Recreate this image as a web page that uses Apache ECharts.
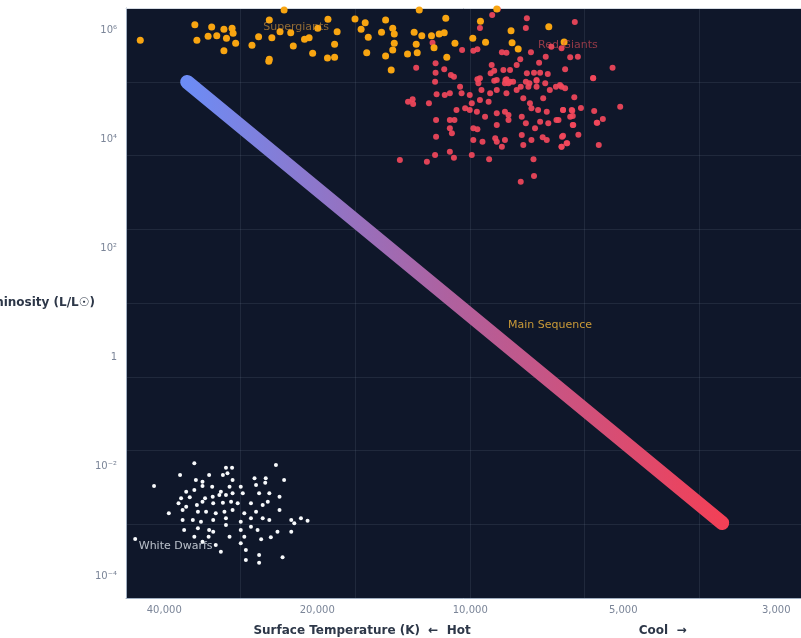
<!DOCTYPE html>
<html>
<head>
<meta charset="utf-8">
<script src="https://cdn.jsdelivr.net/npm/echarts@6/dist/echarts.min.js"></script>
<style>
  html, body { margin: 0; padding: 0; background: #ffffff; }
  #hr-chart { width: 801px; height: 638px; }
</style>
</head>
<body>
<div id="hr-chart"></div>
<script>
// values are log10(T / K) and log10(L / Lsun)
var xTickExp = [4.6, 4.3, 4.0, 3.7, 3.4];
var xTickLabels = ['40,000', '20,000', '10,000', '5,000', '3,000'];
var yTickExp = [-4, -2, 0, 2, 4, 6];
var yTickLabels = ['10⁻⁴', '10⁻²', '1', '10²', '10⁴', '10⁶'];

// main sequence end points
var mainSeqLogT = [4.555, 3.506];
var mainSeqLogL = [5.048, -3.029];

var supergiants = [
    [4.647, 5.811], [4.540, 6.097], [4.536, 5.811], [4.507, 6.055], [4.514, 5.885], [4.497, 5.896],
    [4.483, 6.013], [4.467, 6.031], [4.465, 5.940], [4.478, 5.848], [4.460, 5.756], [4.483, 5.621],
    [4.428, 5.720], [4.415, 5.877], [4.394, 6.183], [4.365, 6.366], [4.389, 5.859], [4.394, 5.463],
    [4.395, 5.427], [4.373, 5.969], [4.352, 5.951], [4.347, 5.707], [4.325, 5.830], [4.316, 5.859],
    [4.309, 5.573], [4.299, 6.031], [4.279, 6.196], [4.261, 5.969], [4.266, 5.738], [4.280, 5.487],
    [4.266, 5.500], [4.226, 6.202], [4.206, 6.134], [4.214, 6.013], [4.200, 5.866], [4.203, 5.584],
    [4.166, 6.183], [4.174, 5.958], [4.152, 6.031], [4.149, 5.927], [4.149, 5.756], [4.152, 5.634],
    [4.166, 5.524], [4.155, 5.268], [4.100, 6.366], [4.110, 5.958], [4.095, 5.896], [4.106, 5.738],
    [4.104, 5.584], [4.123, 5.561], [4.076, 5.896], [4.061, 5.927], [4.051, 5.951], [4.071, 5.676],
    [4.048, 6.214], [4.030, 5.756], [4.046, 5.500], [3.980, 6.159], [3.995, 5.848], [3.970, 5.775],
    [3.920, 5.987], [3.918, 5.768], [3.906, 5.652], [3.846, 6.061], [3.816, 5.780], [3.948, 6.385]
];

var redGiants = [
    [3.957, 6.275], [3.946, 6.379], [3.889, 6.214], [3.891, 6.037], [3.981, 6.037], [3.994, 5.621],
    [3.986, 5.647], [3.938, 5.592], [3.929, 5.584], [3.881, 5.592], [3.865, 5.401], [3.852, 5.511],
    [3.841, 5.694], [4.016, 5.634], [4.074, 5.768], [4.068, 5.390], [4.106, 5.310], [4.051, 5.280],
    [4.068, 5.218], [4.038, 5.176], [4.032, 5.145], [3.986, 5.097], [3.958, 5.359], [3.953, 5.255],
    [3.935, 5.268], [3.922, 5.268], [3.909, 5.359], [3.902, 5.463], [3.875, 5.218], [3.863, 5.218],
    [3.848, 5.194], [3.931, 5.084], [3.916, 5.053], [3.891, 5.053], [3.870, 5.084], [3.948, 5.084],
    [3.795, 6.147], [3.821, 5.665], [3.804, 5.500], [3.789, 5.511], [3.814, 5.280], [3.721, 5.310],
    [3.759, 5.121], [3.821, 4.962], [3.796, 4.768], [3.818, 4.535], [3.800, 4.522], [3.783, 4.572],
    [3.757, 4.517], [3.706, 4.595], [3.799, 4.425], [3.740, 4.370], [3.751, 4.302], [3.798, 4.260],
    [3.818, 4.064], [3.788, 4.083], [3.810, 3.925], [3.821, 3.863], [3.748, 3.894],
    [3.960, 5.207], [3.889, 5.207], [4.069, 5.053], [4.020, 4.962], [3.984, 5.024], [3.981, 5.116],
    [3.953, 5.072], [3.929, 5.097], [3.925, 5.024], [3.901, 4.962], [3.884, 5.024], [3.870, 5.072],
    [3.853, 5.024], [3.824, 4.993], [3.814, 4.932], [3.759, 5.116], [4.040, 4.841], [4.050, 4.810],
    [4.066, 4.822], [4.081, 4.658], [4.122, 4.687], [4.113, 4.731], [4.112, 4.645], [4.017, 4.841],
    [4.001, 4.810], [3.978, 4.901], [3.961, 4.841], [3.948, 4.901], [3.932, 5.024], [3.922, 5.053],
    [3.997, 4.658], [3.981, 4.718], [3.964, 4.687], [3.929, 4.841], [3.909, 4.901], [3.896, 4.749],
    [3.886, 4.962], [3.870, 4.962], [3.844, 4.901], [3.832, 4.962], [3.857, 4.749], [4.027, 4.535],
    [4.010, 4.566], [4.040, 4.352], [4.067, 4.352], [4.031, 4.352], [4.001, 4.535], [3.987, 4.504],
    [3.971, 4.412], [3.948, 4.474], [3.932, 4.504], [3.925, 4.443], [3.899, 4.412], [3.883, 4.658],
    [3.880, 4.566], [3.867, 4.535], [3.850, 4.504], [3.831, 4.352], [3.818, 4.535], [3.801, 4.535],
    [3.804, 4.412], [3.799, 4.260], [3.752, 4.302], [4.040, 4.200], [3.994, 4.200], [3.986, 4.181],
    [3.948, 4.260], [3.925, 4.352], [3.891, 4.291], [3.873, 4.200], [3.863, 4.321], [3.847, 4.291],
    [3.827, 4.352], [4.067, 4.046], [4.036, 4.108], [3.994, 3.985], [3.976, 3.954], [3.951, 4.017],
    [3.948, 3.954], [3.932, 3.985], [3.938, 3.863], [3.899, 4.077], [3.896, 3.894], [3.880, 3.985],
    [3.858, 4.035], [3.850, 3.985], [3.820, 4.046], [3.821, 3.863], [3.811, 3.925], [4.138, 3.619],
    [4.085, 3.588], [4.069, 3.711], [4.040, 3.771], [4.032, 3.661], [3.997, 3.711], [3.963, 3.632],
    [3.876, 3.632], [3.875, 3.326], [3.901, 3.222]
];

var whiteDwarfs = [
    [4.541, -1.936], [4.479, -2.016], [4.467, -2.016], [4.381, -1.967], [4.620, -2.352], [4.569, -2.150],
    [4.538, -2.242], [4.525, -2.273], [4.512, -2.150], [4.485, -2.150], [4.476, -2.119], [4.466, -2.242],
    [4.423, -2.211], [4.401, -2.211], [4.402, -2.291], [4.365, -2.242], [4.557, -2.456], [4.541, -2.425],
    [4.525, -2.352], [4.506, -2.364], [4.489, -2.456], [4.472, -2.364], [4.450, -2.364], [4.420, -2.333],
    [4.567, -2.577], [4.550, -2.559], [4.520, -2.577], [4.505, -2.548], [4.492, -2.516], [4.479, -2.516],
    [4.466, -2.485], [4.446, -2.485], [4.414, -2.485], [4.394, -2.485], [4.374, -2.548], [4.572, -2.668],
    [4.557, -2.731], [4.536, -2.700], [4.525, -2.639], [4.504, -2.668], [4.485, -2.657], [4.469, -2.639],
    [4.456, -2.668], [4.430, -2.668], [4.407, -2.700], [4.397, -2.639], [4.591, -2.852], [4.564, -2.791],
    [4.534, -2.822], [4.518, -2.822], [4.499, -2.852], [4.482, -2.822], [4.466, -2.791], [4.443, -2.852],
    [4.420, -2.822], [4.374, -2.791], [4.564, -2.974], [4.544, -2.974], [4.528, -3.005], [4.504, -2.974],
    [4.479, -2.943], [4.450, -3.005], [4.430, -2.943], [4.407, -2.943], [4.394, -2.974], [4.351, -2.974],
    [4.332, -2.943], [4.319, -2.987], [4.345, -3.035], [4.561, -3.157], [4.534, -3.126], [4.512, -3.157],
    [4.504, -3.189], [4.479, -3.066], [4.450, -3.157], [4.430, -3.097], [4.417, -3.157], [4.378, -3.189],
    [4.351, -3.189], [4.657, -3.322], [4.541, -3.280], [4.513, -3.280], [4.472, -3.280], [4.443, -3.280],
    [4.410, -3.328], [4.391, -3.291], [4.489, -3.555], [4.440, -3.524], [4.414, -3.615], [4.368, -3.657],
    [4.440, -3.707], [4.414, -3.756], [4.499, -3.432], [4.450, -3.401], [4.525, -3.372]
];

var regionNames = ['Supergiants', 'Red Giants', 'Main Sequence', 'White Dwarfs'];
var regionAnchors = [[4.406, 6.055], [3.867, 5.725], [3.926, 0.597], [4.650, -3.450]];
var regionColors = ['rgba(245,170,60,0.7)', 'rgba(235,80,90,0.75)', '#f6b93b', '#e2e8f0'];

var dom = document.getElementById('hr-chart');
var chart = echarts.init(dom, null, { renderer: 'canvas' });

var font = 'DejaVu Sans';

function pickLabel(ticks, labels) {
    return function (v) {
        for (var i = 0; i < ticks.length; i++) {
            if (Math.abs(ticks[i] - v) < 1e-6) return labels[i];
        }
        return '';
    };
}

var option = {
    animation: false,
    backgroundColor: '#ffffff',
    grid: {
        left: 126,
        right: -13,
        top: 8,
        bottom: 40,
        outerBoundsMode: 'none',
        containLabel: false,
        show: true,
        backgroundColor: '#0f172a',
        borderWidth: 0
    },
    xAxis: [
        {
            type: 'value',
            inverse: true,
            min: 3.326,
            max: 4.675,
            name: '{a|Surface Temperature (K)  ←  Hot}{gap|}{a|Cool  →}',
            nameLocation: 'middle',
            nameGap: 27,
            nameTextStyle: {
                rich: {
                    a: { fontFamily: font, fontSize: 12, fontWeight: 'bold', color: '#2d3748' },
                    gap: { width: 168 }
                }
            },
            axisLine: { show: true, onZero: false, lineStyle: { color: '#a0aec0', width: 1 } },
            axisTick: { show: false },
            splitLine: { show: false },
            axisLabel: {
                customValues: xTickExp,
                formatter: pickLabel(xTickExp, xTickLabels),
                color: '#7b8598',
                fontFamily: font,
                fontSize: 10,
                margin: 7
            }
        },
        {
            type: 'value',
            position: 'top',
            min: 0,
            max: 6,
            interval: 1,
            axisLine: { show: true, onZero: false, lineStyle: { color: '#d5dbe3', width: 1 } },
            axisTick: { show: false },
            axisLabel: { show: false },
            splitLine: { show: true, lineStyle: { color: 'rgba(148,163,184,0.13)', width: 1 } }
        }
    ],
    yAxis: [
        {
            type: 'value',
            min: -4.403,
            max: 6.403,
            name: 'Luminosity (L/L☉)',
            nameLocation: 'middle',
            nameRotate: 0,
            nameGap: 31,
            nameMoveOverlap: false,
            nameTextStyle: { fontFamily: font, fontSize: 12, fontWeight: 'bold', color: '#2d3748' },
            axisLine: { show: true, onZero: false, lineStyle: { color: '#a0aec0', width: 1 } },
            axisTick: { show: false },
            splitLine: { show: false },
            axisLabel: {
                customValues: yTickExp,
                formatter: pickLabel(yTickExp, yTickLabels),
                color: '#7b8598',
                fontFamily: font,
                fontSize: 10,
                margin: 9
            }
        },
        {
            type: 'value',
            position: 'right',
            min: 0,
            max: 8,
            interval: 1,
            axisLine: { show: false },
            axisTick: { show: false },
            axisLabel: { show: false },
            splitLine: { show: true, lineStyle: { color: 'rgba(148,163,184,0.13)', width: 1 } }
        }
    ],
    series: [
        {
            name: 'Main Sequence',
            type: 'line',
            data: mainSeqLogT.map(function (t, i) { return [t, mainSeqLogL[i]]; }),
            showSymbol: false,
            lineStyle: {
                width: 14,
                cap: 'round',
                color: new echarts.graphic.LinearGradient(0, 0, 1, 0, [
                    { offset: 0, color: '#6b8df7' },
                    { offset: 0.5, color: '#b0609d' },
                    { offset: 1, color: '#f43f55' }
                ])
            },
            z: 2
        },
        {
            name: 'White Dwarfs',
            type: 'scatter',
            data: whiteDwarfs,
            symbolSize: 4,
            itemStyle: { color: '#f8fafc', opacity: 1 },
            z: 3
        },
        {
            name: 'Red Giants',
            type: 'scatter',
            data: redGiants,
            symbolSize: 6,
            itemStyle: { color: '#f2485b', opacity: 0.92 },
            z: 3
        },
        {
            name: 'Supergiants',
            type: 'scatter',
            data: supergiants,
            symbolSize: 7,
            itemStyle: { color: '#f8a511', opacity: 1 },
            z: 4
        },
        {
            name: 'labels',
            type: 'scatter',
            symbolSize: 0,
            silent: true,
            z: 5,
            data: regionNames.map(function (n, i) {
                return {
                    name: n,
                    value: regionAnchors[i],
                    label: { color: regionColors[i] }
                };
            }),
            label: {
                show: true,
                position: 'right',
                distance: 0,
                formatter: '{b}',
                fontFamily: font,
                fontSize: 11
            }
        }
    ]
};

chart.setOption(option);
window.addEventListener('resize', chart.resize);
</script>
</body>
</html>
